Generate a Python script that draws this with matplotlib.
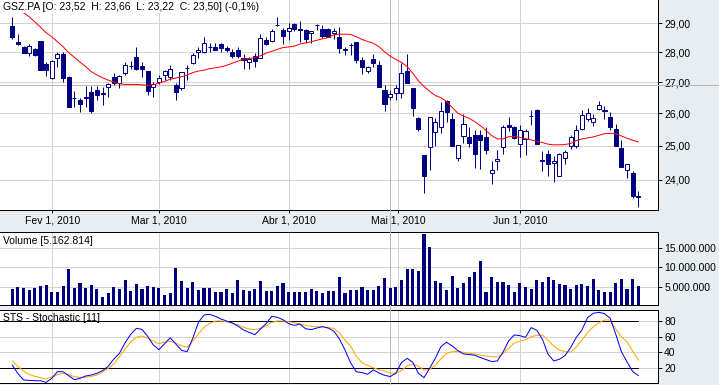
import matplotlib
matplotlib.use('Agg')
import matplotlib.pyplot as plt
from matplotlib.lines import Line2D
from matplotlib.ticker import FixedLocator, FixedFormatter, NullLocator

plt.rcParams['font.family'] = ['Liberation Sans', 'DejaVu Sans']
plt.rcParams['font.size'] = 7.5

# GSZ.PA daily candles, 21 Jan 2010 .. 30 Jun 2010 (trading-day index)
opens = [28.90, 28.35, 28.18, 27.96, 28.12, 28.38, 27.61, 27.15, 27.79, 27.95,
         27.17, 26.50, 26.42, 26.51, 26.68, 26.74, 26.65, 26.86, 27.16, 26.99,
         27.30, 27.54, 27.83, 27.53, 27.36, 26.84, 27.00, 27.23, 27.18, 26.90,
         26.83, 27.46, 27.63, 28.00, 28.00, 28.17, 28.18, 28.28, 28.15, 28.02,
         28.07, 27.80, 27.68, 27.88, 27.82, 28.42, 28.39, 28.94, 28.77, 28.74,
         28.98, 28.80, 28.77, 28.65, 28.93, 28.80, 28.80, 28.65, 28.53, 28.09,
         28.26, 28.35, 27.73, 27.38, 27.78, 27.56, 26.74, 26.51, 26.64, 26.64,
         27.38, 26.80, 25.85, 24.72, 24.96, 25.43, 25.57, 26.40, 25.82, 24.62,
         25.31, 25.26, 25.33, 25.32, 25.28, 24.20, 24.53, 24.96, 25.65, 25.57,
         25.04, 25.20, 25.92, 26.10, 24.56, 24.74, 24.49, 24.11, 24.64, 24.98,
         24.98, 25.50, 25.83, 25.72, 26.14, 26.10, 25.88, 25.53, 24.92, 24.29,
         24.18, 23.52]
highs = [29.23, 28.64, 28.21, 28.28, 28.16, 28.40, 27.68, 27.73, 28.00, 28.00,
         27.22, 26.71, 26.50, 26.87, 26.87, 26.88, 26.86, 26.99, 27.30, 27.23,
         27.66, 27.71, 28.18, 27.68, 27.36, 27.02, 27.24, 27.40, 27.56, 26.97,
         27.35, 27.56, 27.97, 28.19, 28.51, 28.31, 28.31, 28.33, 28.21, 28.11,
         28.19, 27.94, 27.85, 27.97, 28.62, 28.53, 28.79, 29.23, 28.82, 29.00,
         29.00, 29.08, 28.80, 28.74, 28.97, 28.95, 28.84, 28.85, 28.87, 28.17,
         28.33, 28.35, 27.83, 27.55, 27.95, 27.70, 26.91, 26.74, 26.91, 27.65,
         27.95, 26.83, 25.88, 24.72, 25.88, 25.85, 26.37, 26.42, 26.01, 25.02,
         25.98, 25.59, 25.48, 25.48, 25.59, 24.53, 24.87, 25.63, 25.89, 25.61,
         25.63, 25.51, 26.12, 26.14, 24.83, 24.87, 24.68, 24.79, 24.87, 25.33,
         25.63, 26.10, 26.16, 25.98, 26.39, 26.24, 26.05, 25.68, 25.18, 24.47,
         24.24, 23.66]
lows = [28.45, 28.25, 27.97, 27.88, 27.88, 27.39, 27.22, 27.10, 27.51, 27.02,
        26.21, 26.21, 26.03, 26.19, 26.02, 26.42, 26.26, 26.51, 26.91, 26.83,
        27.23, 27.43, 27.40, 27.18, 26.58, 26.51, 26.95, 27.09, 27.09, 26.44,
        26.74, 27.09, 27.60, 27.82, 27.99, 28.02, 28.06, 28.00, 28.00, 27.82,
        27.80, 27.43, 27.43, 27.49, 27.80, 28.26, 28.34, 28.91, 28.29, 28.43,
        28.74, 28.36, 28.31, 28.33, 28.77, 28.48, 28.51, 28.45, 27.99, 27.92,
        27.92, 27.65, 27.27, 27.30, 27.51, 26.84, 26.08, 26.42, 26.44, 26.48,
        26.97, 25.92, 25.46, 23.60, 24.29, 24.98, 25.40, 25.74, 24.98, 24.55,
        25.10, 24.96, 24.35, 24.31, 24.75, 23.87, 24.29, 24.75, 25.46, 25.20,
        24.67, 24.72, 25.63, 25.05, 24.26, 24.11, 23.94, 24.11, 24.46, 24.89,
        24.92, 25.48, 25.77, 25.61, 26.10, 25.82, 25.48, 24.98, 24.38, 24.03,
        23.48, 23.22]
closes = [28.51, 28.27, 27.99, 28.20, 27.92, 27.40, 27.40, 27.70, 27.95, 27.15,
          26.21, 26.48, 26.31, 26.49, 26.09, 26.58, 26.62, 26.95, 26.99, 27.20,
          27.56, 27.55, 27.44, 27.45, 26.72, 26.95, 27.15, 27.36, 27.43, 26.67,
          27.33, 27.47, 27.92, 28.07, 28.31, 28.18, 28.08, 28.13, 28.06, 27.88,
          27.88, 27.73, 27.78, 27.71, 28.49, 28.27, 28.72, 28.95, 28.56, 28.82,
          28.81, 28.77, 28.46, 28.72, 28.94, 28.55, 28.53, 28.73, 28.14, 28.10,
          28.24, 27.73, 27.51, 27.49, 27.65, 26.84, 26.29, 26.62, 26.80, 27.30,
          26.99, 26.16, 25.50, 24.09, 25.88, 25.72, 26.07, 26.03, 24.98, 25.02,
          25.66, 25.10, 24.75, 25.18, 24.87, 24.28, 24.60, 25.57, 25.59, 25.25,
          25.48, 25.45, 25.93, 25.07, 24.54, 24.45, 24.55, 24.75, 24.82, 25.28,
          25.48, 25.94, 26.01, 25.85, 26.28, 26.07, 25.59, 25.00, 24.38, 24.47,
          23.53, 23.50]
moving_avg = [29.71, 29.53, 29.37, 29.23, 29.05, 28.86, 28.67, 28.53, 28.36, 28.19,
              27.99, 27.83, 27.67, 27.52, 27.35, 27.24, 27.15, 27.07, 27.01, 26.95,
              26.93, 26.93, 26.93, 26.92, 26.90, 26.92, 26.97, 27.03, 27.10, 27.14,
              27.18, 27.24, 27.32, 27.37, 27.40, 27.45, 27.48, 27.51, 27.56, 27.63,
              27.70, 27.77, 27.79, 27.82, 27.88, 27.97, 28.03, 28.10, 28.16, 28.18,
              28.21, 28.28, 28.32, 28.36, 28.41, 28.46, 28.50, 28.60, 28.62, 28.62,
              28.61, 28.53, 28.44, 28.37, 28.31, 28.19, 28.02, 27.87, 27.76, 27.66,
              27.52, 27.30, 27.05, 26.86, 26.71, 26.57, 26.50, 26.38, 26.19, 26.01,
              25.92, 25.85, 25.74, 25.62, 25.47, 25.31, 25.21, 25.21, 25.28, 25.28,
              25.26, 25.22, 25.18, 25.14, 25.10, 25.05, 25.03, 25.03, 25.04, 25.07,
              25.16, 25.21, 25.24, 25.27, 25.32, 25.37, 25.38, 25.37, 25.30, 25.23,
              25.17, 25.12]
volume_mln = [4.41, 4.92, 4.67, 4.15, 4.67, 5.17, 5.44, 3.62, 3.62, 5.17,
              9.54, 4.67, 5.95, 4.67, 5.44, 4.41, 2.36, 3.38, 4.92, 4.41,
              6.72, 3.90, 5.69, 4.41, 5.17, 4.92, 4.67, 2.87, 3.38, 9.80,
              6.46, 4.67, 6.21, 4.15, 4.67, 4.67, 3.62, 3.62, 4.41, 3.38,
              6.72, 4.15, 3.90, 4.41, 6.46, 3.90, 3.90, 5.17, 5.95, 3.62,
              3.62, 3.62, 3.62, 4.41, 3.90, 3.38, 3.90, 3.90, 7.49, 3.38,
              4.15, 4.15, 4.80, 4.15, 4.15, 5.30, 7.20, 4.67, 4.92, 6.72,
              9.54, 9.54, 9.03, 18.50, 15.20, 6.46, 5.95, 4.15, 7.74, 4.67,
              5.95, 7.49, 8.77, 11.60, 3.62, 7.49, 6.21, 6.21, 5.44, 3.62,
              5.95, 4.92, 4.41, 6.72, 6.21, 7.49, 6.72, 5.69, 5.44, 4.41,
              5.44, 5.69, 5.17, 6.98, 4.15, 3.62, 3.62, 5.95, 6.98, 4.41,
              6.98, 5.16]
stoch_k = [24.1, 13.2, 5.2, 4.7, 4.3, 4.3, 2.2, 7.3, 15.7, 15.7,
           10.6, 5.6, 7.3, 10.2, 11.5, 13.6, 17.0, 22.5, 31.7, 38.9,
           52.4, 63.0, 70.6, 69.3, 60.4, 49.5, 43.6, 51.1, 58.7, 50.7,
           42.7, 41.0, 57.9, 78.2, 87.4, 88.3, 85.8, 82.4, 79.8, 77.3,
           73.5, 68.5, 65.5, 62.5, 69.7, 76.5, 85.8, 84.5, 81.5, 76.5,
           74.4, 76.0, 70.1, 68.9, 71.0, 72.7, 71.0, 67.2, 57.1, 43.1,
           26.7, 15.7, 14.5, 12.4, 18.0, 14.1, 11.2, 9.5, 13.7, 27.2,
           32.6, 27.6, 13.7, 8.2, 20.0, 32.6, 47.4, 52.9, 48.3, 42.4,
           38.2, 37.4, 36.5, 33.6, 31.0, 28.5, 29.3, 40.3, 54.6, 62.2,
           61.3, 59.2, 71.5, 68.1, 56.7, 37.8, 29.3, 31.4, 36.1, 46.2,
           59.2, 68.5, 84.1, 89.6, 90.9, 89.2, 83.3, 63.1, 41.1, 28.1,
           15.9, 10.9]
stoch_d = [29.2, 22.5, 16.5, 12.3, 9.8, 8.1, 6.4, 9.0, 11.9, 13.6,
           11.9, 9.4, 8.5, 8.5, 9.8, 11.5, 15.3, 19.9, 25.4, 34.7,
           44.4, 53.3, 59.2, 60.9, 58.3, 54.5, 51.1, 53.3, 54.1, 52.0,
           48.6, 46.9, 54.1, 63.4, 71.8, 76.9, 79.8, 79.8, 79.0, 77.3,
           75.2, 71.8, 69.7, 68.9, 70.6, 73.9, 78.2, 79.8, 79.8, 79.0,
           77.7, 76.0, 74.4, 73.1, 72.7, 72.7, 71.4, 70.6, 65.1, 55.4,
           48.2, 35.0, 27.1, 23.7, 20.8, 18.2, 16.5, 14.0, 13.6, 17.0,
           23.3, 25.0, 22.9, 17.8, 18.7, 24.1, 31.7, 38.9, 41.0, 41.4,
           40.2, 38.9, 38.1, 36.8, 35.5, 34.7, 34.3, 38.5, 45.2, 52.0,
           54.5, 56.2, 60.0, 61.7, 62.1, 55.4, 48.2, 43.1, 41.0, 40.6,
           46.9, 55.8, 65.1, 72.3, 77.7, 81.1, 81.1, 69.7, 60.0, 53.3,
           41.9, 30.5]

date_pos = [7.09, 26.06, 49.06, 68.39, 90.0]
date_labels = ['Fev 1, 2010', 'Mar 1, 2010', 'Abr 1, 2010', 'Mai 1, 2010', 'Jun 1, 2010']
price_ticks = [24, 25, 26, 27, 28, 29]
price_labels = ['24,00', '25,00', '26,00', '27,00', '28,00', '29,00']
vol_ticks = [5, 10, 15]
vol_labels = ['5.000.000', '10.000.000', '15.000.000']
sto_ticks = [20, 40, 60, 80]
header = 'GSZ.PA [O: 23,52  H: 23,66  L: 23,22  C: 23,50] (-0,1%)'

W, H = 719, 385
NAVY = '#000080'
BG = '#e8edf1'
GRID = '#d3d3d3'
CROSS = '#b8b8b8'
LW = 0.72
XMIN, XMAX = -2.18, 114.49
cross_x = 67.02

fig = plt.figure(figsize=(W / 100, H / 100), dpi=100, facecolor=BG)


def panel(top, bottom):
    ax = fig.add_axes([0, 1 - bottom / H, 658 / W, (bottom - top) / H])
    ax.set_facecolor('white')
    ax.spines['left'].set_visible(False)
    for s in ('top', 'bottom', 'right'):
        ax.spines[s].set_linewidth(LW)
    ax.yaxis.tick_right()
    ax.tick_params(axis='y', direction='out', length=3, width=LW, pad=1.5,
                   labelsize=7.5)
    ax.set_xlim(XMIN, XMAX)
    ax.xaxis.set_major_locator(FixedLocator(date_pos))
    ax.grid(True, color=GRID, lw=LW)
    ax.set_axisbelow(True)
    ax.axvline(cross_x, color=CROSS, lw=LW, zorder=1.5)
    return ax


idx = list(range(len(closes)))

# price panel
ax_p = panel(0, 210)
ax_p.spines['top'].set_visible(False)
ax_p.set_yscale('log')
ax_p.set_ylim(23.13, 29.83)
ax_p.yaxis.set_major_locator(FixedLocator(price_ticks))
ax_p.yaxis.set_major_formatter(FixedFormatter(price_labels))
ax_p.yaxis.set_minor_locator(NullLocator())
ax_p.xaxis.set_major_formatter(FixedFormatter(date_labels))
ax_p.tick_params(axis='x', direction='out', length=2.2, width=LW, pad=2,
                 labelsize=7.5)
ax_p.axhline(26.91, color=CROSS, lw=LW, zorder=1.5)

ax_p.vlines(idx, lows, highs, color=NAVY, lw=LW, zorder=3)
body_lo = [min(o, c) for o, c in zip(opens, closes)]
body_h = [max(abs(c - o), 0.004) for o, c in zip(opens, closes)]
faces = [NAVY if c < o else 'white' for o, c in zip(opens, closes)]
ax_p.bar(idx, body_h, bottom=body_lo, width=0.72, color=faces,
         edgecolor=NAVY, linewidth=LW, zorder=4)
ax_p.plot(idx, moving_avg, color='#ff0000', lw=LW, zorder=5)

# volume panel
ax_v = panel(232.3, 305)
ax_v.set_ylim(0.31, 18.95)
ax_v.yaxis.set_major_locator(FixedLocator(vol_ticks))
ax_v.yaxis.set_major_formatter(FixedFormatter(vol_labels))
ax_v.tick_params(axis='x', length=0, labelbottom=False)
ax_v.bar(idx, volume_mln, width=0.55, color=NAVY, zorder=3)

# stochastic panel
ax_s = panel(310, 383.3)
ax_s.set_ylim(1.0, 93.8)
ax_s.yaxis.set_major_locator(FixedLocator(sto_ticks))
ax_s.tick_params(axis='x', length=0, labelbottom=False)
ax_s.plot([XMIN, idx[-1]], [80, 80], color='black', lw=LW, zorder=2)
ax_s.plot([XMIN, idx[-1]], [20, 20], color='black', lw=LW, zorder=2)
ax_s.plot(idx, stoch_d, color='#ffa500', lw=LW, zorder=3)
ax_s.plot(idx, stoch_k, color='#0000ff', lw=LW, zorder=4)

# panel titles
fig.text(3 / W, 1 - 7 / H, header, ha='left', va='center', fontsize=7.5,
         bbox=dict(facecolor='white', edgecolor='none', pad=0.8))
fig.text(2.7 / W, 1 - 240.7 / H, 'Volume [5.162.814]', ha='left', va='center',
         fontsize=7.5)
fig.text(2.7 / W, 1 - 318.3 / H, 'STS - Stochastic [11]', ha='left',
         va='center', fontsize=7.5)

# crosshair pieces outside the plot areas
cx = 390.3 / W
for y0, y1 in [(210, 232.3), (305, 310), (383.3, 385)]:
    fig.add_artist(Line2D([cx, cx], [1 - y0 / H, 1 - y1 / H], color=CROSS, lw=LW))
fig.add_artist(Line2D([658 / W, 1], [1 - 85 / H, 1 - 85 / H], color=CROSS, lw=LW))

fig.savefig('out.png', dpi=100, facecolor=BG)
